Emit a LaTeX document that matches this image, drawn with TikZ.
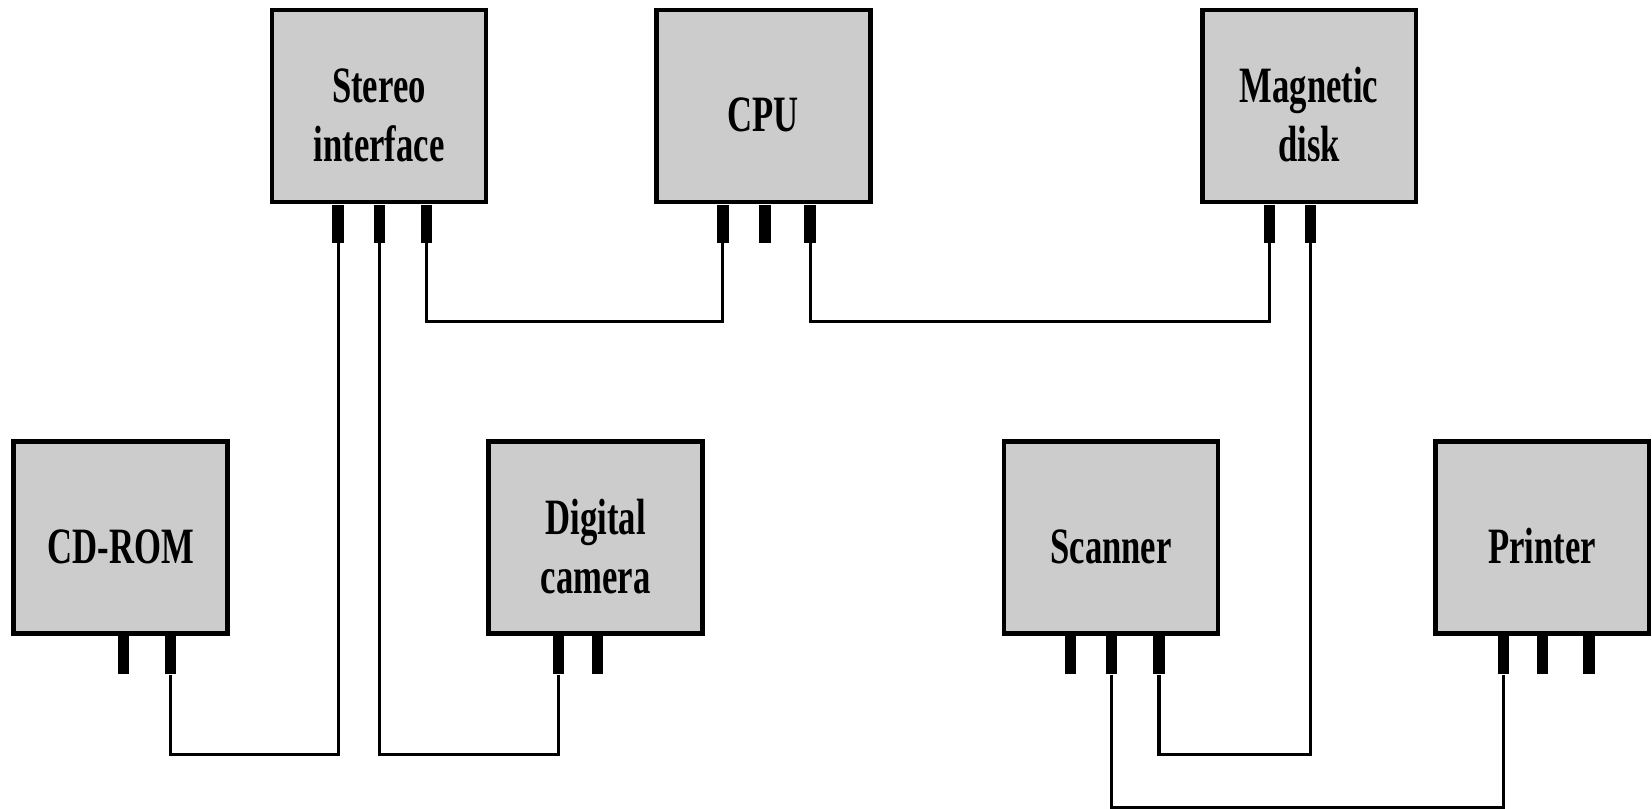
\documentclass[tikz,border=0pt]{standalone}
\usepackage{fontspec}
\setmainfont[FakeStretch=0.68]{Liberation Serif}
\definecolor{boxgray}{gray}{0.8}
\begin{document}
\begin{tikzpicture}[x=0.02cm,y=-0.02cm,
  dev/.style={draw=black, fill=boxgray, line width=2.8pt, minimum width=4.28cm, minimum height=3.84cm, inner sep=0pt},
  stub/.style={fill=black, inner sep=0pt, minimum width=0.23cm, minimum height=0.76cm, anchor=north},
  lbl/.style={font=\fontsize{29}{33.6}\selectfont\bfseries, align=center, inner sep=0pt, yshift=-0.18cm},
  wire/.style={line width=1.8pt}]
\useasboundingbox (0,0) rectangle (1652,808);
% boxes
\node[dev] (stereo) at (379,106) {};
\node[dev] (cpu) at (763.4,106) {};
\node[dev] (mag) at (1309,106) {};
\node[dev] (cd) at (120.6,537.4) {};
\node[dev] (cam) at (595.8,537.4) {};
\node[dev] (scan) at (1111,537.4) {};
\node[dev] (prn) at (1542,537.4) {};
% labels
\node[lbl] (stereoT) at (stereo.center) {Stereo\\interface};
\node[lbl] (cpuT) at (cpu.center) {CPU};
\node[lbl] (magT) at (mag.center) {Magnetic\\disk};
\node[lbl] (cdT) at (cd.center) {CD-ROM};
\node[lbl] (camT) at (cam.center) {Digital\\camera};
\node[lbl] (scanT) at (scan.center) {Scanner};
\node[lbl] (prnT) at (prn.center) {Printer};
% stubs top row
\node[stub] (st1) at (338.2,204.5) {};
\node[stub] (st2) at (379.3,204.5) {};
\node[stub] (st3) at (426.7,204.5) {};
\node[stub] (cp1) at (722.8,204.5) {};
\node[stub] (cp2) at (764.9,204.5) {};
\node[stub] (cp3) at (810.2,204.5) {};
\node[stub] (mg1) at (1269.6,204.5) {};
\node[stub] (mg2) at (1310.7,204.5) {};
% stubs bottom row
\node[stub] (cd1) at (123.3,635.9) {};
\node[stub] (cd2) at (170.7,635.9) {};
\node[stub] (ca1) at (558.4,635.9) {};
\node[stub] (ca2) at (597.4,635.9) {};
\node[stub] (sc1) at (1070.5,635.9) {};
\node[stub] (sc2) at (1111.5,635.9) {};
\node[stub] (sc3) at (1159,635.9) {};
\node[stub] (pr1) at (1503.5,635.9) {};
\node[stub] (pr2) at (1542.5,635.9) {};
\node[stub] (pr3) at (1588.8,635.9) {};
% wires
\draw[wire] (st3.south) -- ++(0,78) -| (cp1.south);
\draw[wire] (cp3.south) -- ++(0,78) -| (mg1.south);
\draw[wire] (st1.south) -- ++(0,511) -| (cd2.south);
\draw[wire] (st2.south) -- ++(0,511) -| (ca1.south);
\draw[wire] (mg2.south) -- ++(0,511) -| (sc3.south);
\draw[wire] (sc2.south) -- ++(0,133) -| (pr1.south);
\end{tikzpicture}
\end{document}
